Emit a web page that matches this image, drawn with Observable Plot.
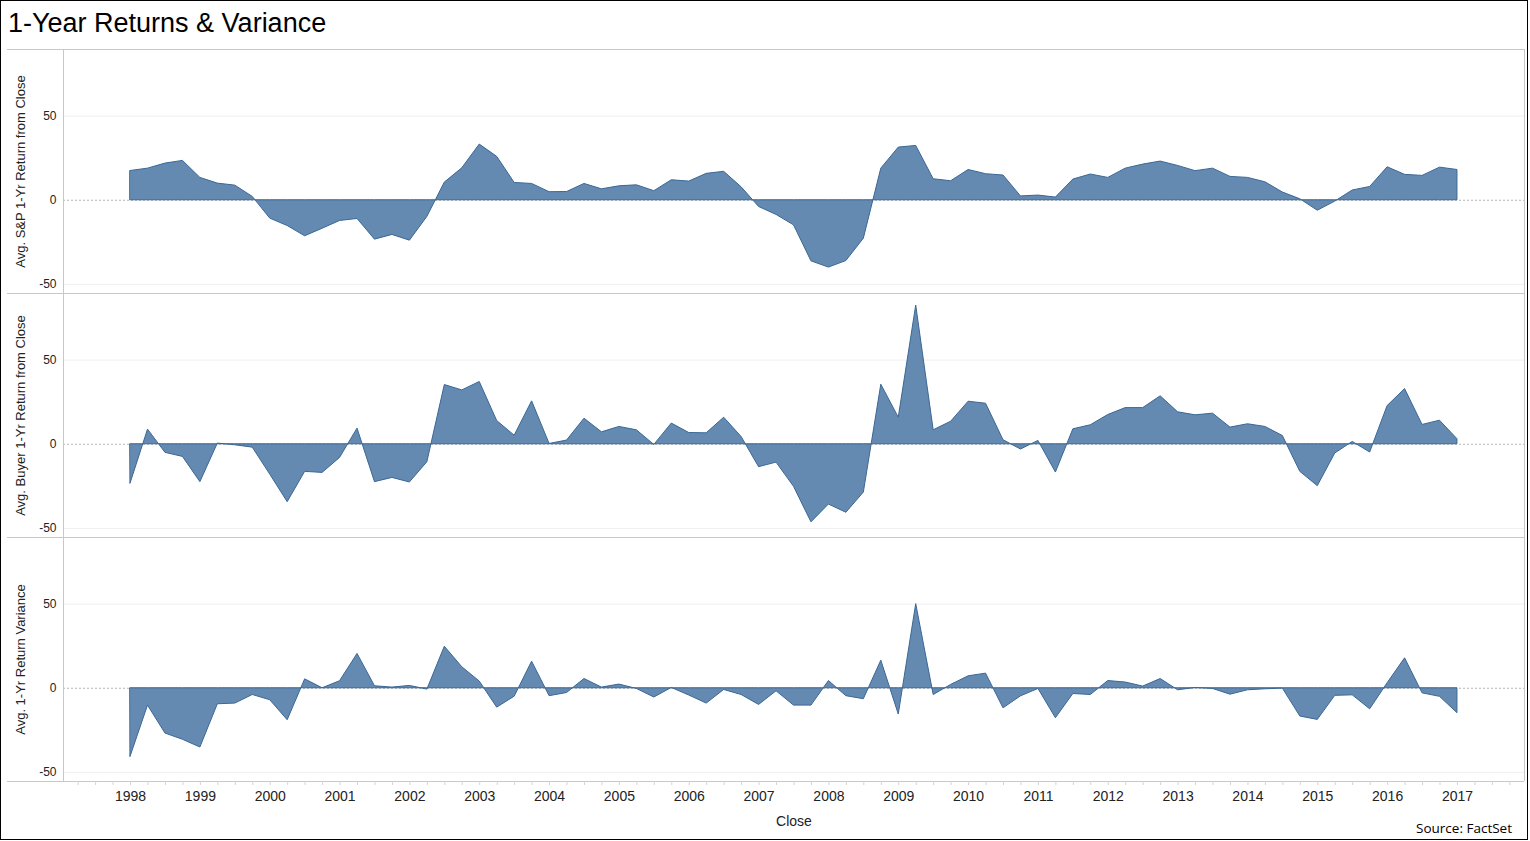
<!DOCTYPE html>
<html>
<head>
<meta charset="utf-8">
<script src="https://cdn.jsdelivr.net/npm/d3@7"></script>
<script src="https://cdn.jsdelivr.net/npm/@observablehq/plot@0.6"></script>
<style>
  html, body { margin: 0; padding: 0; background: #fff; }
  #frame { position: relative; width: 1528px; height: 840px; box-sizing: border-box; border: 1px solid #000; background: #fff; overflow: hidden; }
  #title { position: absolute; left: 7px; top: 9px; font-family: "Liberation Sans", Arial, sans-serif; font-size: 27px; line-height: 27px; color: #000; white-space: nowrap; }
  #chart { position: absolute; left: 5px; top: 47px; }
  #source { position: absolute; right: 15px; top: 820px; font-family: "Open Sans", "Noto Sans", sans-serif; font-size: 13.5px; line-height: 14px; color: #000; }
</style>
</head>
<body>
<div id="frame">
  <div id="title">1-Year Returns &amp; Variance</div>
  <div id="chart"></div>
  <div id="source">Source: FactSet</div>
</div>
<script>
// ---- data (quarterly, 1998 Q1 .. 2017 Q1) ----
const startYear = 1998;
const years = [1998, 1999, 2000, 2001, 2002, 2003, 2004, 2005, 2006, 2007, 2008, 2009, 2010, 2011, 2012, 2013, 2014, 2015, 2016, 2017];

const panelKeys = ["sp", "buyer", "variance"];
const panelTitles = ["Avg. S&P 1-Yr Return from Close", "Avg. Buyer 1-Yr Return from Close", "Avg. 1-Yr Return Variance"];

const spReturn = [17.4, 18.8, 21.8, 23.4, 13.3, 9.9, 8.7, 2.0, -10.9, -15.3, -21.4, -16.9, -12.3, -11.1, -23.4, -20.6, -24, -9.9, 10.5, 19, 33.1, 25.8, 10.3,
  9.7, 4.8, 4.9, 9.7, 6.5, 8.3, 8.9, 5.4, 11.9, 11.1, 15.7, 16.9, 7.7, -4, -8.7, -14.9, -36.3, -40, -36.1, -22.8, 18.8, 31.3, 32.3, 12.5, 11.3, 18, 15.5, 14.7, 2.3,
  2.8, 1.6, 12.3, 15.3, 13.3, 18.8, 21.2, 23, 20.4, 17.3, 18.8, 13.9, 13.3, 10.7, 4.6, 0.6, -6.2, -0.8, 5.8, 7.9, 19.6, 15.1, 14.5, 19.4, 18];

const buyerReturn = [-23.3, 8.7, -5.1, -7.5, -22.5, 0.4, -0.6, -2, -18, -34.4, -16.4, -17, -8.1, 9.3, -22.5, -20, -22.7, -10.7, 35.2, 32, 37, 13.8, 5.1,
  25.5, 0.2, 2.2, 15.2, 7.1, 10.3, 8.3, -0.4, 12.3, 6.7, 6.5, 15.8, 4.3, -13.6, -10.9, -25.3, -46.4, -35.8, -40.7, -28.7, 35.4, 15.8, 82.4, 8.3, 13.4, 25.3, 24.1, 2.4, -3.1,
  2, -16.8, 8.9, 11.3, 17.4, 21.5, 21.5, 28.5, 19, 17.2, 18.2, 9.9, 11.9, 10.3, 4.9, -16.4, -24.9, -5.5, 1.4, -4.9, 22.7, 32.8, 11.5, 14, 3];

const returnVariance = [-40.7, -10.3, -26.9, -30.6, -35.2, -9.5, -9.1, -4, -7.1, -19, 5.3, 0, 4.2, 20.4, 1.2, 0.4, 1.4, -0.8, 24.7, 12.5, 4, -11.5, -5,
  15.8, -4.7, -2.8, 5.5, 0.4, 2.2, -0.4, -5.5, 0.2, -4.3, -9.1, -1, -4, -9.9, -1.8, -10.3, -10.3, 4.3, -4.7, -6.5, 16.4, -15.6, 50, -4, 2, 7.1, 8.7, -11.9, -4.8,
  -0.4, -17.8, -3.4, -4, 4.3, 3.4, 1, 5.5, -1.2, 0.2, -0.4, -3.8, -1.2, -0.6, -0.2, -16.8, -18.8, -4.5, -4.2, -12.5, 3, 17.8, -3, -5.1, -14.8];

const yTicks = [-50, 0, 50];

// ---- build table ----
const series = [spReturn, buyerReturn, returnVariance];
const rows = [];
series.forEach((vals, k) => vals.forEach((v, i) => rows.push({panel: panelKeys[k], x: startYear + i / 4, y: v})));
const titleRows = panelKeys.map((k, i) => ({panel: k, title: panelTitles[i]}));

// ---- layout ----
const width = 1521, marginLeft = 57, marginRight = 3, marginTop = 1, marginBottom = 56, facetH = 244;
const height = marginTop + marginBottom + facetH * panelKeys.length;
const xDomain = [1997.04, 2017.96];
const yDomain = [-55.4, 89.6];
const pxPerYear = (width - marginLeft - marginRight) / (xDomain[1] - xDomain[0]);
const xLeftEdge = xDomain[0] - (marginLeft - 1) / pxPerYear;
const quarterTicks = d3.range(xDomain[0] + 0.21, xDomain[1], 0.25);

const lineGray = "#c8c8c8";

const chart = Plot.plot({
  width, height, marginLeft, marginRight, marginTop, marginBottom,
  style: {fontFamily: "'Liberation Sans', Arial, sans-serif", color: "#222", background: "transparent", overflow: "visible"},
  x: {domain: xDomain},
  y: {domain: yDomain},
  fy: {domain: panelKeys, padding: 0, axis: null},
  marks: [
    Plot.ruleY([50, -50], {stroke: "#efefef", strokeWidth: 1}),
    Plot.ruleY([0], {stroke: "#b5b5b5", strokeDasharray: "2,2", strokeWidth: 1}),
    Plot.areaY(rows, {x: "x", y: "y", fy: "panel", fill: "#4e79a7", fillOpacity: 0.87, stroke: "#3a6794", strokeWidth: 1, curve: "linear"}),
    Plot.ruleY([yDomain[1], yDomain[0]], {x1: xLeftEdge, x2: xDomain[1], stroke: lineGray, strokeWidth: 1}),
    Plot.ruleX([xDomain[0], xDomain[1]], {stroke: lineGray, strokeWidth: 1}),
    Plot.axisY({ticks: yTicks, tickSize: 0, tickPadding: 7, fontSize: 12, label: null, tickFormat: d => String(d)}),
    Plot.text(titleRows, {fy: "panel", text: "title", frameAnchor: "left", textAnchor: "middle", lineAnchor: "middle", rotate: -90, dx: -43, fontSize: 13, fill: "#222"}),
    Plot.axisX({ticks: quarterTicks, tickSize: 4, stroke: "#d4d4d4", text: null, label: null}),
    Plot.axisX({ticks: years, tickSize: 0, tickPadding: 10, fontSize: 14, tickFormat: d => String(d), label: "Close", labelAnchor: "center", labelArrow: false, labelOffset: 44})
  ]
});
document.getElementById("chart").appendChild(chart);
</script>
</body>
</html>
